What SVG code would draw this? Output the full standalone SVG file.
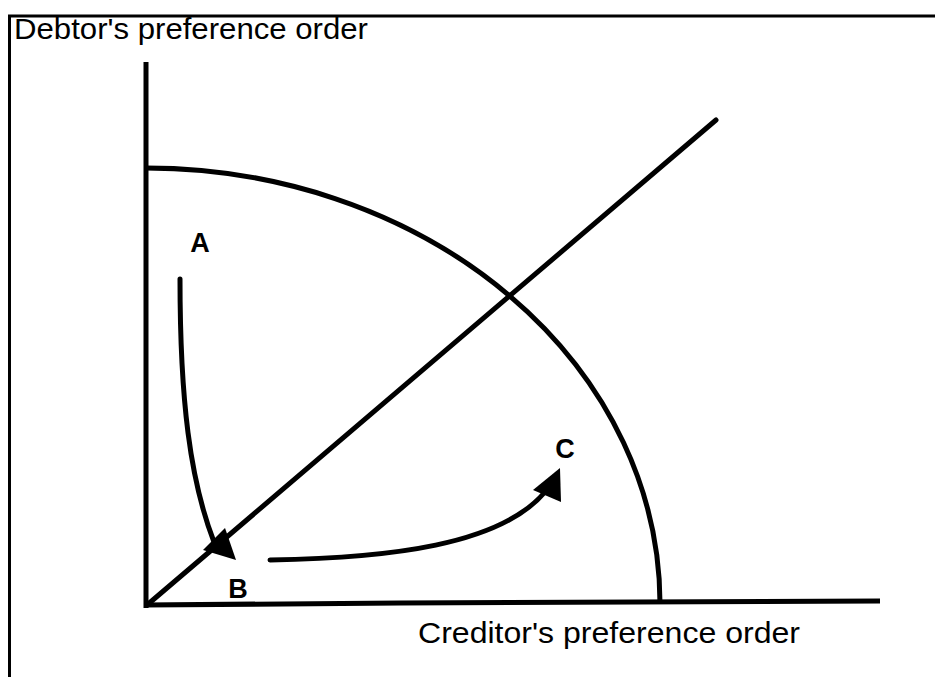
<svg xmlns="http://www.w3.org/2000/svg" width="935" height="677" viewBox="0 0 935 677">
<style>
.ln{fill:none;stroke:#000;stroke-width:5;stroke-linecap:round}
.ax{fill:none;stroke:#000;stroke-width:5}
.lbl{font-family:"Liberation Sans",Arial,sans-serif;font-size:29px;fill:#000}
.pt{font-family:"Liberation Sans",Arial,sans-serif;font-size:27px;font-weight:bold;fill:#000}
</style>
<rect width="935" height="677" fill="#fff"/>
<g id="frame">
<path d="M9.5,677 V16 H935" fill="none" stroke="#000" stroke-width="3"/>
</g>
<g id="axes">
<line class="ax" x1="146" y1="62" x2="146" y2="608"/>
<path class="ax" d="M144,605 L400,603 L880,601"/>
</g>
<g id="frontier">
<path class="ax" d="M146,168 A514,436 0 0 1 660,603"/>
</g>
<g id="diagonal">
<line class="ln" x1="147" y1="605" x2="716" y2="120"/>
</g>
<g id="labels">
<text class="lbl" x="14" y="39" textLength="354" lengthAdjust="spacingAndGlyphs">Debtor's preference order</text>
<text class="lbl" x="418" y="643" textLength="382" lengthAdjust="spacingAndGlyphs">Creditor's preference order</text>
</g>
<g id="node-A"><text class="pt" x="200" y="252" text-anchor="middle">A</text></g>
<g id="node-B"><text class="pt" x="238" y="598" text-anchor="middle">B</text></g>
<g id="node-C"><text class="pt" x="565" y="458" text-anchor="middle">C</text></g>
<g id="connectors">
<path class="ln" d="M180,279 C180,400 190,480 214,542"/>
<polygon points="225,528 203,550 236,560" fill="#000"/>
<path class="ln" d="M270,560 C390,558 500,545 545,492"/>
<polygon points="560,468 533,490 561,502" fill="#000"/>
</g>
</svg>
